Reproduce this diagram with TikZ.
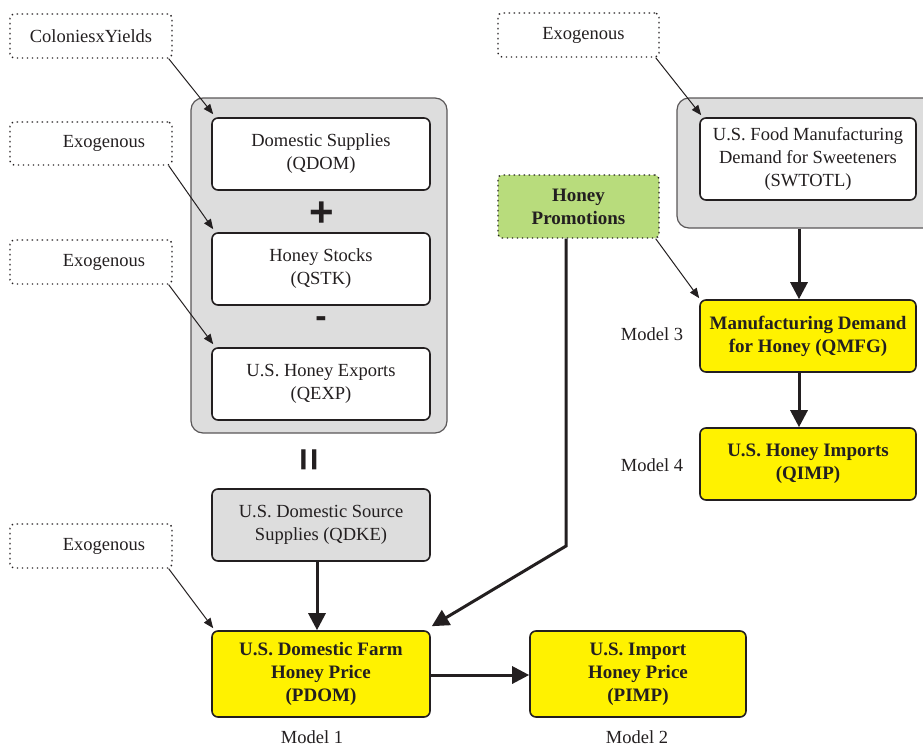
\documentclass[tikz,border=0pt]{standalone}
\usepackage{fontspec}
\setmainfont{Liberation Serif}
\newfontfamily\symfont{Liberation Sans}
\usetikzlibrary{arrows.meta}
\definecolor{ink}{HTML}{231F20}
\definecolor{hyellow}{HTML}{FFF200}
\definecolor{hgreen}{HTML}{B8DC7C}
\definecolor{hgrey}{HTML}{DDDDDD}
\tikzset{
  txt/.style={font=\fontsize{18.5}{23}\selectfont, text=ink, align=center},
  dotbox/.style={txt, draw=ink, line width=1.4pt, dash pattern=on 1.4pt off 3.6pt, rounded corners=4pt, inner sep=0pt, minimum width=162pt, minimum height=44pt},
  container/.style={draw=ink!75, fill=hgrey, line width=1.2pt, rounded corners=12pt, inner sep=0pt},
  whitebox/.style={txt, draw=ink, fill=white, line width=1.6pt, rounded corners=6pt, inner sep=0pt, minimum width=218pt, minimum height=72pt},
  yellowbox/.style={whitebox, fill=hyellow, font=\fontsize{19}{23}\selectfont\bfseries},
  greybox/.style={whitebox, fill=hgrey},
  sym/.style={font=\fontsize{42}{42}\selectfont\symfont\bfseries, text=ink, inner sep=0pt},
  lbl/.style={txt, inner sep=0pt},
  thinarrow/.style={draw=ink, line width=1pt, -{Triangle[length=10pt,width=8pt]}},
  thickarrow/.style={draw=ink, line width=3pt, -{Triangle[length=17pt,width=17pt]}},
}
\begin{document}
\begin{tikzpicture}[x=1pt,y=-1pt]
\useasboundingbox (0,0) rectangle (923,747);
\clip (0,0) rectangle (923,747);
% containers
\node[container, minimum width=256pt, minimum height=335pt] (lg) at (319,265.5) {};
\node[container, minimum width=262pt, minimum height=130pt] (rg) at (808,163) {};
% exogenous boxes
\node[dotbox] (cy) at (91,36) {ColoniesxYields};
\node[dotbox, minimum height=43pt] (ex1) at (91,143.5) {\hspace*{26pt}Exogenous};
\node[dotbox] (ex2) at (91,262) {\hspace*{26pt}Exogenous};
\node[dotbox] (ex3) at (91,546) {\hspace*{26pt}Exogenous};
\node[dotbox, minimum width=161pt] (ex4) at (578.5,35) {\hspace*{10pt}Exogenous};
\node[dotbox, fill=hgreen, minimum width=161pt, minimum height=63pt, font=\fontsize{19}{23}\selectfont\bfseries] (promo) at (578.5,206.5) {Honey\\Promotions};
% left column
\node[whitebox] (qdom) at (321,154) {Domestic Supplies\\(QDOM)};
\node[sym] (plus) at (322,214) {+};
\node[whitebox] (qstk) at (321,269) {Honey Stocks\\(QSTK)};
\node[sym, font=\fontsize{34}{34}\selectfont\symfont\bfseries] (minus) at (321,322) {-};
\node[whitebox] (qexp) at (321,384) {U.S. Honey Exports\\(QEXP)};
\node[sym, font=\fontsize{40}{40}\selectfont\symfont\bfseries, rotate=90] (eq) at (312,460) {=};
\node[greybox] (qdke) at (321,525) {U.S. Domestic Source\\Supplies (QDKE)};
\node[yellowbox, minimum height=86pt] (pdom) at (321,674) {U.S. Domestic Farm\\Honey Price\\(PDOM)};
\node[yellowbox, minimum width=216pt, minimum height=86pt] (pimp) at (638,674) {U.S. Import\\Honey Price\\(PIMP)};
\node[lbl] (m1) at (312,737) {Model 1};
\node[lbl] (m2) at (637,737) {Model 2};
% right column
\node[whitebox, minimum width=216pt, minimum height=82pt] (swt) at (808,159) {U.S. Food Manufacturing\\Demand for Sweeteners\\(SWTOTL)};
\node[yellowbox, minimum width=216pt] (qmfg) at (808,336) {Manufacturing Demand\\for Honey (QMFG)};
\node[yellowbox, minimum width=216pt] (qimp) at (808,464) {U.S. Honey Imports\\(QIMP)};
\node[lbl] (m3) at (652,334) {Model 3};
\node[lbl] (m4) at (652,465) {Model 4};
% thin arrows
\draw[thinarrow] ([xshift=-4pt]cy.south east) -- ([shift={(2pt,3pt)}]qdom.north west);
\draw[thinarrow] ([xshift=-4pt]ex1.south east) -- ([shift={(2pt,3pt)}]qstk.north west);
\draw[thinarrow] ([xshift=-4pt]ex2.south east) -- ([shift={(2pt,3pt)}]qexp.north west);
\draw[thinarrow] ([xshift=-4pt]ex3.south east) -- ([shift={(2pt,2pt)}]pdom.north west);
\draw[thinarrow] ([xshift=-4pt]ex4.south east) -- ([shift={(2pt,2pt)}]swt.north west);
\draw[thinarrow] ([xshift=-4pt]promo.south east) -- ([shift={(0pt,1pt)}]qmfg.north west);
% thick arrows
\coordinate (bend) at (566,546);
\draw[thickarrow] (promo.south -| bend) -- (bend) -- ([shift={(1pt,4pt)}]pdom.north east);
\draw[thickarrow] ([xshift=-4pt]qdke.south) -- ([xshift=-4pt]pdom.north);
\draw[thickarrow] (pdom.east |- 0,675) -- (pimp.west |- 0,675);
\draw[thickarrow] ([xshift=-9pt]rg.south) -- ([xshift=-9pt]qmfg.north);
\draw[thickarrow] ([xshift=-9pt]qmfg.south) -- ([xshift=-9pt]qimp.north);
\end{tikzpicture}
\end{document}
